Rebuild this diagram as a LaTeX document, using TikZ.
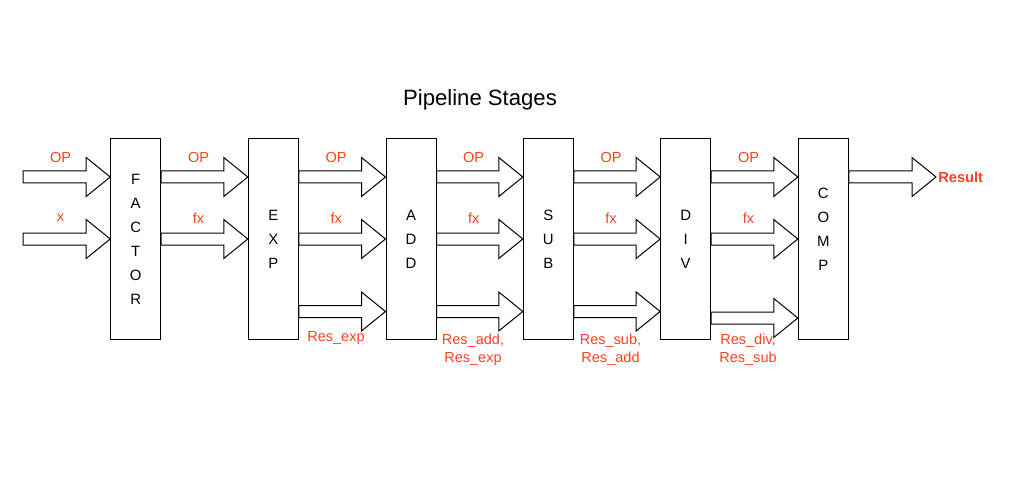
\documentclass[tikz,border=0pt]{standalone}
\usepackage{fontspec}
\setmainfont{Liberation Sans}
\usetikzlibrary{calc,positioning}

\definecolor{labelred}{RGB}{255,64,32}

% hollow block arrow from #1 (shaft start) to #2 (tip)
\newcommand{\bigarrow}[2]{%
  \draw[blockarrow] let \p1=(#1), \p2=(#2) in
    (\x1,\y1+4.5pt) -- (\x2-18pt,\y1+4.5pt) -- (\x2-18pt,\y1+14.6pt) -- (\x2,\y1)
    -- (\x2-18pt,\y1-14.6pt) -- (\x2-18pt,\y1-4.5pt) -- (\x1,\y1-4.5pt) -- cycle;}

\begin{document}
\begin{tikzpicture}[
    x=0.75pt, y=-0.75pt,
    stage/.style={rectangle, draw, line width=0.75pt, fill=white, minimum width=37.5pt, minimum height=150pt, inner sep=0pt,
      align=center, font=\fontsize{11.2}{18}\selectfont},
    stagetext/.style={align=center, inner sep=0pt, font=\fontsize{11.2}{18}\selectfont},
    blockarrow/.style={draw, line width=0.75pt, fill=white, line join=miter},
    lbl/.style={text=labelred, align=center, inner sep=0pt, font=\fontsize{10.9}{13.8}\selectfont}
]
\useasboundingbox (0,0) rectangle (1035,481);

% Title
\node[font=\fontsize{16.6}{20}\selectfont] (title) at (480,100) {Pipeline Stages};

% Stages
\node[stage] (factor) at (135.7,239) {F\\A\\C\\T\\O\\R};
\node[stage] (exp) at (273.3,239) {E\\X\\P};
\node[stage] (add) at (411,239) {A\\D\\D};
\node[stage] (sub) at (548.3,239) {S\\U\\B};
\node[stage] (div) at (685.7,239) {D\\I\\V};
\node[stage] (comp) at (823.3,239) {};
\node[stagetext] (comptext) at (823.3,229) {C\\O\\M\\P};

% Rows
\coordinate (rowop) at (0,177);
\coordinate (rowfx) at (0,239);
\coordinate (rowres) at (0,311.5);
\coordinate (rowlast) at (0,318);
\coordinate (inop) at (23,177);
\coordinate (inx) at (23,239);
\coordinate (out) at (936,177);

% Inputs
\bigarrow{inop}{factor.west |- rowop}
\bigarrow{inx}{factor.west |- rowfx}
\node[lbl] (in-op) at (60.5,157) {OP};
\node[lbl] (in-x) at (60.5,218) {x};

% OP and fx between stages
\foreach \a/\b in {factor/exp,exp/add,add/sub,sub/div,div/comp}{
  \bigarrow{\a.east |- rowop}{\b.west |- rowop}
  \bigarrow{\a.east |- rowfx}{\b.west |- rowfx}
  \node[lbl] (op-\a) at ($(\a.east |- rowop)!0.5!(\b.west |- rowop)+(-6,-20)$) {OP};
  \node[lbl] (fx-\a) at ($(\a.east |- rowfx)!0.5!(\b.west |- rowfx)+(-6,-21)$) {fx};
}

% Results
\foreach \a/\b in {exp/add,add/sub,sub/div}{
  \bigarrow{\a.east |- rowres}{\b.west |- rowres}
}
\bigarrow{div.east |- rowlast}{comp.west |- rowlast}
\node[lbl] (res-exp) at (336,338) {Res\_exp};
\node[lbl] (res-add) at (473,349.5) {Res\_add,\\Res\_exp};
\node[lbl] (res-sub) at (610.5,349.5) {Res\_sub,\\Res\_add};
\node[lbl] (res-div) at (748,349.5) {Res\_div,\\Res\_sub};

% Output
\bigarrow{comp.east |- rowop}{out}
\node[lbl, anchor=west, font=\fontsize{11}{13}\selectfont\bfseries] (result) at ([xshift=1.5]out) {Result};

\end{tikzpicture}
\end{document}
